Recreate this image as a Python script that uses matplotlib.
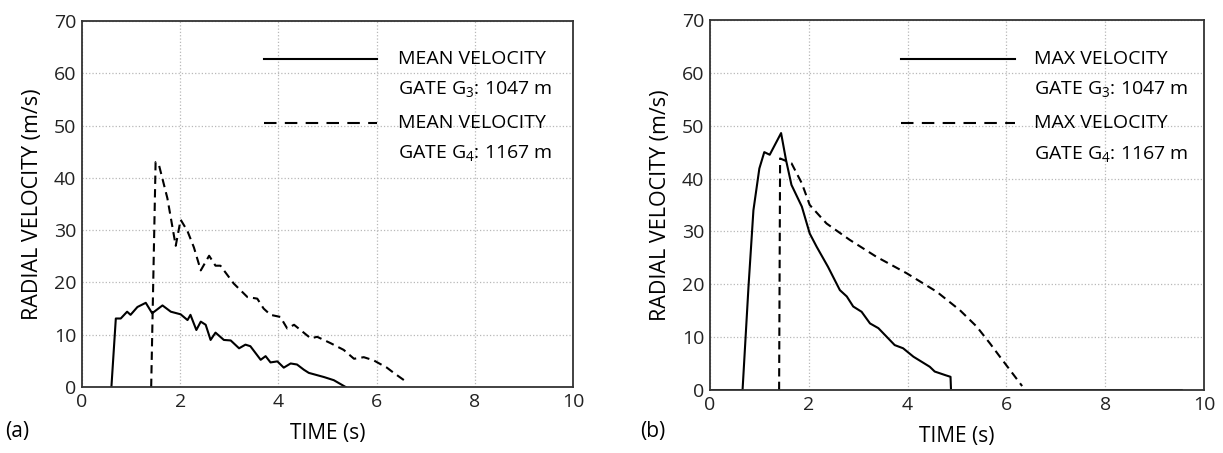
import numpy as np
import matplotlib
matplotlib.use('Agg')
from matplotlib import pyplot as plt

plt.rcParams['font.family'] = ['Open Sans', 'DejaVu Sans']
plt.rcParams['mathtext.fontset'] = 'custom'
plt.rcParams['mathtext.rm'] = 'Open Sans'

# (a) mean velocity, gate G3 (solid)
mean_g3_t = [0.6, 0.69, 0.79, 0.92, 0.99, 1.13, 1.30, 1.43, 1.64, 1.81, 2.01, 2.15, 2.21, 2.33,
             2.42, 2.52, 2.62, 2.72, 2.89, 3.03, 3.20, 3.33, 3.43, 3.64, 3.74, 3.84, 3.98,
             4.11, 4.25, 4.38, 4.52, 4.62, 4.93, 5.13, 5.37]
mean_g3_v = [0.0, 13.1, 13.1, 14.4, 13.8, 15.3, 16.1, 14.1, 15.6, 14.4, 13.9, 12.8, 13.8, 10.9,
             12.5, 11.9, 9.0, 10.4, 9.0, 8.9, 7.4, 8.1, 7.8, 5.2, 5.9, 4.7, 4.9,
             3.7, 4.5, 4.3, 3.3, 2.7, 1.9, 1.3, 0.0]

# (a) mean velocity, gate G4 (dashed)
mean_g4_t = [1.41, 1.50, 1.57, 1.74, 1.91, 2.01, 2.15, 2.28, 2.42, 2.59, 2.72, 2.82, 3.09, 3.37,
             3.57, 3.70, 3.84, 4.04, 4.18, 4.32, 4.66, 4.79, 5.06, 5.33, 5.54, 5.74, 5.94,
             6.21, 6.35, 6.59]
mean_g4_v = [0.0, 43.0, 42.4, 36.1, 27.0, 32.0, 29.8, 26.7, 22.3, 25.1, 23.2, 23.2, 19.8, 17.2,
             16.9, 15.0, 13.8, 13.4, 11.2, 11.9, 9.3, 9.6, 8.4, 7.1, 5.4, 5.7, 5.1,
             3.7, 2.7, 1.1]

# (b) max velocity, gate G3 (solid)
max_g3_t = [0.0, 0.66, 0.78, 0.88, 1.0, 1.10, 1.21, 1.44, 1.54, 1.65, 1.86, 2.02, 2.16, 2.39,
            2.63, 2.77, 2.90, 3.07, 3.24, 3.41, 3.74, 3.91, 4.12, 4.45, 4.55, 4.77, 4.87,
            4.88, 9.55]
max_g3_v = [0.0, 0.0, 19.5, 34.0, 41.9, 45.0, 44.5, 48.6, 43.5, 38.8, 34.7, 29.6, 27.1, 23.3,
            18.9, 17.7, 15.8, 14.8, 12.6, 11.7, 8.5, 7.9, 6.3, 4.4, 3.5, 2.8, 2.5,
            0.0, 0.0]

# (b) max velocity, gate G4 (dashed)
max_g4_t = [1.40, 1.42, 1.65, 1.86, 2.02, 2.36, 2.83, 3.37, 3.98, 4.59, 5.06, 5.40, 5.67, 5.87, 6.32]
max_g4_v = [0.0, 43.8, 42.9, 39.1, 35.0, 31.5, 28.4, 25.2, 22.1, 18.6, 15.1, 12.0, 8.8, 6.3, 0.75]

legend_a = ['MEAN VELOCITY', 'GATE G$_3$: 1047 m', 'MEAN VELOCITY', 'GATE G$_4$: 1167 m']
legend_b = ['MAX VELOCITY', 'GATE G$_3$: 1047 m', 'MAX VELOCITY', 'GATE G$_4$: 1167 m']

fig = plt.figure(figsize=(12.23, 4.53), dpi=100)
ax1 = fig.add_axes([0.067, 0.1457, 0.4015, 0.808])
ax2 = fig.add_axes([0.5805, 0.139, 0.4039, 0.817])

LW = 1.5
DASH = (4, 2.5)


def style(ax):
    ax.set_xlim(0, 10)
    ax.set_ylim(0, 70)
    ax.set_xticks(range(0, 11, 2))
    ax.set_yticks(range(0, 71, 10))
    ax.grid(True, color='#b8b8b8', linestyle=':', linewidth=0.9)
    ax.tick_params(direction='in', length=0, labelsize=14, pad=4, colors='#222222')
    for s in ax.spines.values():
        s.set_color('#333333')
        s.set_linewidth(1.3)
    ax.set_xlabel('TIME (s)', fontsize=15, labelpad=9)
    ax.set_ylabel('RADIAL VELOCITY (m/s)', fontsize=15.5, labelpad=8)


def legend(ax, x0, x1, xt, labels):
    ax.plot([x0, x1], [62.7, 62.7], color='black', lw=LW)
    ax.plot([x0, x1], [50.5, 50.5], color='black', lw=LW, dashes=(6, 4))
    ys = [62.7, 56.8, 50.5, 44.5]
    for y, t in zip(ys, labels):
        ax.text(xt, y, t, fontsize=14, va='center', ha='left')


style(ax1)
ax1.plot(mean_g3_t, mean_g3_v, color='black', lw=LW)
ax1.plot(mean_g4_t, mean_g4_v, color='black', lw=LW, dashes=DASH)
legend(ax1, 3.7, 6.0, 6.43, legend_a)

style(ax2)
ax2.plot(max_g3_t, max_g3_v, color='black', lw=LW)
ax2.plot(max_g4_t, max_g4_v, color='black', lw=LW, dashes=DASH)
legend(ax2, 3.86, 6.17, 6.57, legend_b)

fig.text(0.004, 0.035, '(a)', fontsize=15)
fig.text(0.523, 0.035, '(b)', fontsize=15)

fig.savefig('out.png', dpi=100)
